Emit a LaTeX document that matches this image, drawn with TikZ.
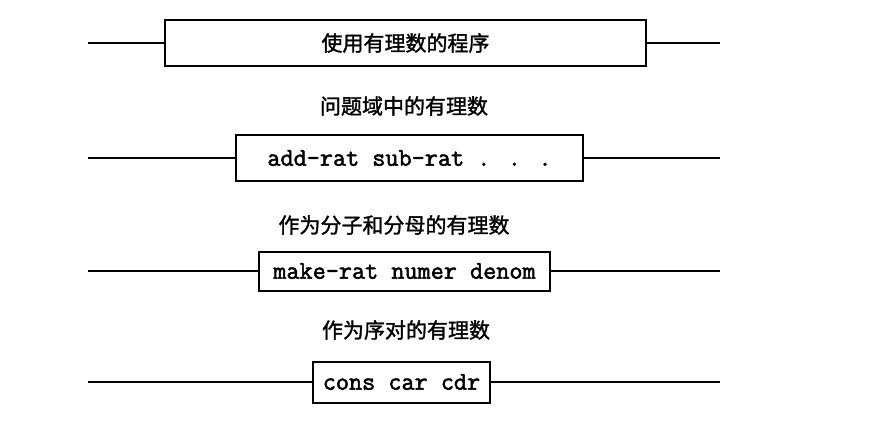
\documentclass[tikz,border=0pt]{standalone}
\usepackage{fontspec}
\setmainfont{Liberation Serif}
\newfontfamily\codefont[FakeBold=2]{Latin Modern Mono}
\newfontfamily\cjk[FakeBold=1.5]{Noto Sans CJK SC}
\begin{document}
\begin{tikzpicture}[x=0.75pt,y=-0.75pt,
  layerbox/.style={draw, line width=1.5pt, inner sep=0pt, outer sep=0pt,
    font=\fontsize{19.1}{20}\selectfont\codefont},
  cjktext/.style={font=\fontsize{15.75}{17}\selectfont\cjk},
  layerlabel/.style={inner sep=0pt, cjktext},
  barrier/.style={line width=1.5pt}]
  \useasboundingbox (0,0) rectangle (878,422);

  % top layer: programs that use rational numbers
  \node[layerbox, minimum width=360.75pt, minimum height=34.5pt, cjktext]
    (prog) at (405.5,43) {使用有理数的程序};
  \coordinate (progL) at (88,43);
  \coordinate (progR) at (720,43);
  \draw[barrier] (progL) -- (prog.west);
  \draw[barrier] (prog.east) -- (progR);

  \node[layerlabel] (lab1) at (404,106) {问题域中的有理数};

  % arithmetic operations
  \node[layerbox, minimum width=260.25pt, minimum height=34.5pt] (ops) at (409.5,158)
    {add-rat sub-rat . . .};
  \coordinate (opsL) at (88,158);
  \coordinate (opsR) at (720,158);
  \draw[barrier] (opsL) -- (ops.west);
  \draw[barrier] (ops.east) -- (opsR);

  \node[layerlabel] (lab2) at (394,225) {作为分子和分母的有理数};

  % constructor and selectors
  \node[layerbox, minimum width=218.25pt, minimum height=29.25pt] (ctor) at (404.5,271)
    {make-rat numer denom};
  \coordinate (ctorL) at (88,271);
  \coordinate (ctorR) at (720,271);
  \draw[barrier] (ctorL) -- (ctor.west);
  \draw[barrier] (ctor.east) -- (ctorR);

  \node[layerlabel] (lab3) at (406,330) {作为序对的有理数};

  % pairs
  \node[layerbox, minimum width=132.75pt, minimum height=30.75pt] (pair) at (401.5,382)
    {cons car cdr};
  \coordinate (pairL) at (88,382);
  \coordinate (pairR) at (720,382);
  \draw[barrier] (pairL) -- (pair.west);
  \draw[barrier] (pair.east) -- (pairR);
\end{tikzpicture}
\end{document}
